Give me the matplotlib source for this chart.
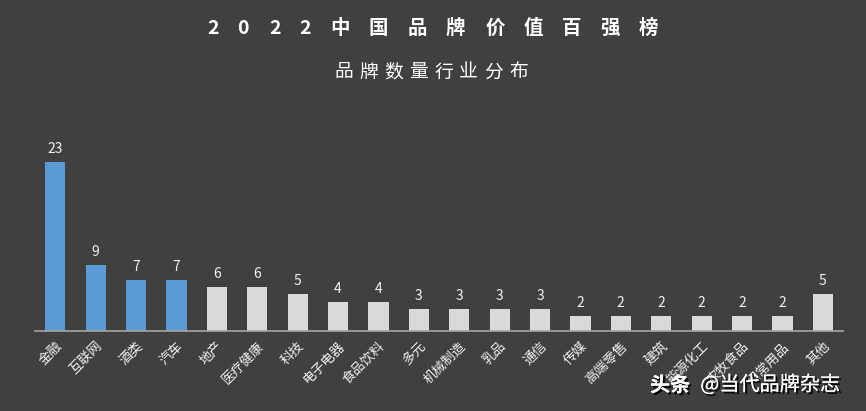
import matplotlib
matplotlib.use("Agg")
import matplotlib.pyplot as plt
import matplotlib.patheffects as pe

plt.rcParams['font.family'] = ['Noto Sans CJK SC', 'DejaVu Sans']

categories = ["金融", "互联网", "酒类", "汽车", "地产", "医疗健康", "科技", "电子电器", "食品饮料", "多元",
              "机械制造", "乳品", "通信", "传媒", "高端零售", "建筑", "能源化工", "农牧食品", "日常用品", "其他"]
values = [23, 9, 7, 7, 6, 6, 5, 4, 4, 3, 3, 3, 3, 2, 2, 2, 2, 2, 2, 5]
highlight = [True, True, True, True] + [False] * 16

title_chars = ["2", "0", "2", "2", "中", "国", "品", "牌", "价", "值", "百", "强", "榜"]
title_x = [213, 243, 275, 305, 340, 378, 417, 455, 495, 533, 572, 610, 648]
subtitle = "品牌数量行业分布"

BG = "#404040"
BLUE = "#5B9BD5"
GRAY = "#D9D9D9"
W, H = 866, 411

fig = plt.figure(figsize=(W / 100, H / 100), dpi=100, facecolor=BG)
ax = fig.add_axes([35 / W, (H - 331) / H, 808 / W, 220.5 / H])
ax.set_facecolor(BG)

colors = [BLUE if h else GRAY for h in highlight]
x = list(range(len(categories)))
bars = ax.bar(x, values, width=0.5, color=colors, edgecolor="none", zorder=2)
for xi, v in zip(x, values):
    ax.text(xi, v + 0.8, str(v), ha="center", va="bottom", color="#F2F2F2", fontsize=10)

ax.set_xlim(-0.5, 19.5)
ax.set_ylim(0, 30)
ax.set_yticks([])
ax.set_xticks(x)
ax.set_xticklabels(categories, rotation=45, ha="right", va="top", rotation_mode="anchor",
                   color="#F2F2F2", fontsize=9.5)
ax.tick_params(axis="x", length=0, pad=6)
for s in ["top", "right", "left"]:
    ax.spines[s].set_visible(False)
ax.spines["bottom"].set_color("#A6A6A6")
ax.spines["bottom"].set_linewidth(1.2)

for ch, px in zip(title_chars, title_x):
    fig.text(px / W, 1 - 28 / H, ch, ha="center", va="center", color="white",
             fontsize=14, fontweight="bold")
for i, ch in enumerate(subtitle):
    fig.text((343.5 + 25 * i) / W, 1 - 72 / H, ch, ha="center", va="center", color="white",
             fontsize=13.5)

shadow = [pe.withSimplePatchShadow(offset=(1.5, -1.5), shadow_rgbFace="black", alpha=0.9), pe.Normal()]
t1 = fig.text(650 / W, 1 - 385 / H, "头条", ha="left", va="center",
              color="white", fontsize=14.5, fontweight="bold")
t2 = fig.text(840 / W, 1 - 385 / H, "@当代品牌杂志", ha="right", va="center",
              color="white", fontsize=14.5)
t1.set_path_effects(shadow)
t2.set_path_effects(shadow)

fig.savefig("out.png", dpi=100, facecolor=BG)
